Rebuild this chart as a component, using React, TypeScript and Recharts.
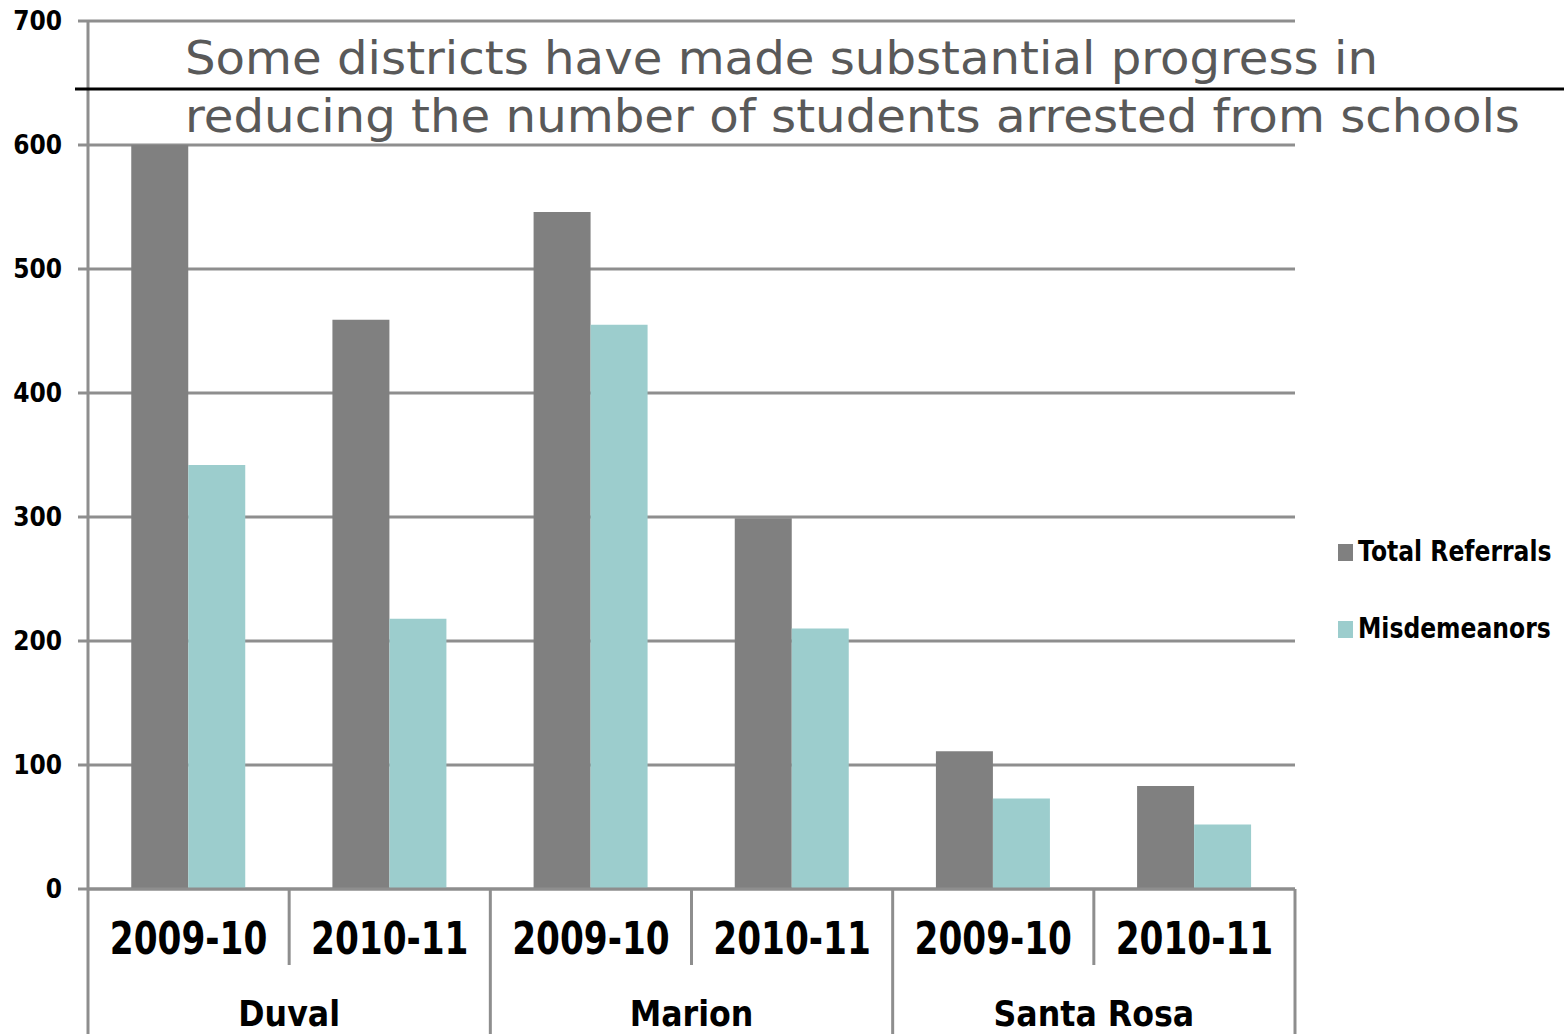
import { BarChart, Bar, XAxis, YAxis, CartesianGrid } from 'recharts'

const DISTRICTS = ['Duval', 'Duval', 'Marion', 'Marion', 'Santa Rosa', 'Santa Rosa']
const YEARS = ['2009-10', '2010-11', '2009-10', '2010-11', '2009-10', '2010-11']
const TOTAL_REFERRALS = [600, 459, 546, 299, 111, 83]
const MISDEMEANORS = [342, 218, 455, 210, 73, 52]
const Y_TICKS = [0, 100, 200, 300, 400, 500, 600, 700]
const TITLE = [
  'Some districts have made substantial progress in',
  'reducing the number of students arrested from schools',
]
const SERIES = [
  { key: 'total', name: 'Total Referrals', color: '#808080' },
  { key: 'misd', name: 'Misdemeanors', color: '#9ccdcd' },
]

const data = YEARS.map((year, i) => ({
  year,
  district: DISTRICTS[i],
  total: TOTAL_REFERRALS[i],
  misd: MISDEMEANORS[i],
}))

const W = 1564
const H = 1034
const MARGIN = { top: 21, right: 269, bottom: 0, left: 0 }
const Y_AXIS_W = 88
const X_AXIS_H = 145
const PLOT_W = W - MARGIN.left - MARGIN.right - Y_AXIS_W
const AXIS_Y = H - X_AXIS_H
const GRID = '#8e8e8e'
const FONT = '"DejaVu Sans", Verdana, sans-serif'

function YTick({ x, y, payload }: any) {
  return (
    <g transform={`translate(${x},${y}) scale(0.9,1)`}>
      <text x={0} y={0} dy="0.36em" textAnchor="end" fontFamily={FONT} fontWeight="bold" fontSize={26} fill="#000">
        {payload.value}
      </text>
    </g>
  )
}

function YearTick({ x, index, payload }: any) {
  const band = PLOT_W / data.length
  const left = x - band / 2
  const row = data[index]
  const first = index === 0 || data[index - 1].district !== row.district
  const last = index === data.length - 1 || data[index + 1].district !== row.district
  let groupSize = 1
  for (let j = index - 1; j >= 0 && data[j].district === row.district; j--) groupSize++
  const groupCenter = x + band / 2 - (groupSize * band) / 2
  return (
    <g>
      <line x1={left} x2={left} y1={AXIS_Y} y2={first ? H : 965} stroke={GRID} strokeWidth={3} />
      {index === data.length - 1 && (
        <line x1={left + band} x2={left + band} y1={AXIS_Y} y2={H} stroke={GRID} strokeWidth={3} />
      )}
      <g transform={`translate(${x},954) scale(0.78,1)`}>
        <text x={0} y={0} textAnchor="middle" fontFamily={FONT} fontWeight="bold" fontSize={44} fill="#000">
          {payload.value}
        </text>
      </g>
      {last && (
        <g transform={`translate(${groupCenter},1026) scale(0.88,1)`}>
          <text x={0} y={0} textAnchor="middle" fontFamily={FONT} fontWeight="bold" fontSize={36} fill="#000">
            {row.district}
          </text>
        </g>
      )}
    </g>
  )
}

export default function App() {
  return (
    <div style={{ position: 'absolute', left: 0, top: 0, width: W, height: H, background: '#fff' }}>
      <BarChart width={W} height={H} data={data} margin={MARGIN} barCategoryGap="21.5%" barGap={0}>
        <CartesianGrid vertical={false} stroke={GRID} strokeWidth={3} />
        <YAxis
          width={Y_AXIS_W}
          domain={[0, 700]}
          ticks={Y_TICKS}
          interval={0}
          axisLine={{ stroke: GRID, strokeWidth: 3 }}
          tickLine={{ stroke: GRID, strokeWidth: 3 }}
          tickSize={10}
          tickMargin={16}
          tick={<YTick />}
        />
        <XAxis
          dataKey="year"
          height={X_AXIS_H}
          interval={0}
          axisLine={{ stroke: GRID, strokeWidth: 3 }}
          tickLine={false}
          tick={<YearTick />}
        />
        {SERIES.map((s) => (
          <Bar key={s.key} dataKey={s.key} name={s.name} fill={s.color} isAnimationActive={false} />
        ))}
      </BarChart>
      <svg width={W} height={H} style={{ position: 'absolute', left: 0, top: 0, pointerEvents: 'none' }}>
        <text x={185} y={74} fontFamily={FONT} fontSize={46} fill="#595959" textLength={1193} lengthAdjust="spacingAndGlyphs">
          {TITLE[0]}
        </text>
        <line x1={75} x2={W} y1={89} y2={89} stroke="#000" strokeWidth={3} />
        <text x={185} y={132} fontFamily={FONT} fontSize={46} fill="#595959" textLength={1335} lengthAdjust="spacingAndGlyphs">
          {TITLE[1]}
        </text>
        {SERIES.map((s, i) => (
          <g key={s.key}>
            <rect x={1338} y={544 + i * 77} width={15} height={17} fill={s.color} />
            <g transform={`translate(1358,${561 + i * 77}) scale(0.81,1)`}>
              <text x={0} y={0} fontFamily={FONT} fontWeight="bold" fontSize={29} fill="#000">
                {s.name}
              </text>
            </g>
          </g>
        ))}
      </svg>
    </div>
  )
}
